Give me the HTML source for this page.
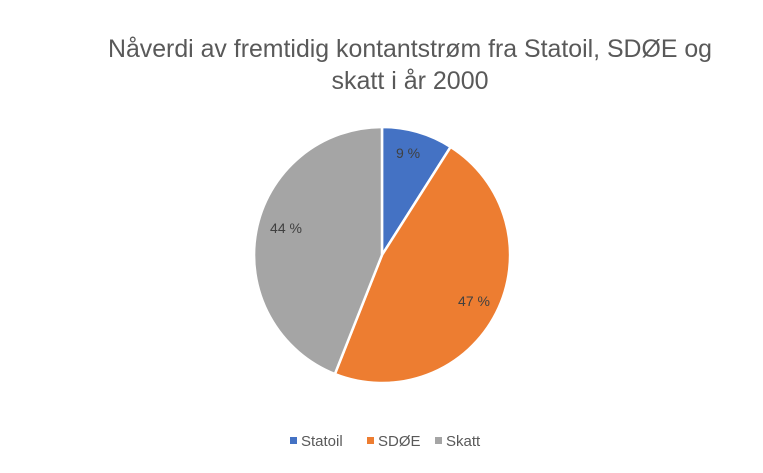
<!DOCTYPE html>
<html><head><meta charset="utf-8"><style>
html,body{margin:0;padding:0;background:#fff;}
</style></head><body>
<svg width="763" height="468" xmlns="http://www.w3.org/2000/svg" font-family="Liberation Sans, sans-serif">
<rect width="763" height="468" fill="#fff"/>
<text x="410" y="57" text-anchor="middle" font-size="25" fill="#595959" textLength="604" lengthAdjust="spacingAndGlyphs">Nåverdi av fremtidig kontantstrøm fra Statoil, SDØE og</text>
<text x="410" y="89" text-anchor="middle" font-size="25" fill="#595959">skatt i år 2000</text>
<g stroke="#fff" stroke-width="2.5" stroke-linejoin="round">
<path d="M382,255 L382,127 A128,128 0 0 1 450.6,146.9 Z" fill="#4472C4"/>
<path d="M382,255 L450.6,146.9 A128,128 0 0 1 334.9,374.0 Z" fill="#ED7D31"/>
<path d="M382,255 L334.9,374.0 A128,128 0 0 1 382,127 Z" fill="#A5A5A5"/>
</g>
<g font-size="14" fill="#404040" text-anchor="middle">
<text x="408" y="158">9 %</text>
<text x="474" y="306">47 %</text>
<text x="286" y="233">44 %</text>
</g>
<g font-size="15" fill="#595959">
<rect x="290" y="437" width="7" height="7" fill="#4472C4"/>
<text x="301" y="446">Statoil</text>
<rect x="367" y="437" width="7" height="7" fill="#ED7D31"/>
<text x="378" y="446">SDØE</text>
<rect x="435" y="437" width="7" height="7" fill="#A5A5A5"/>
<text x="446" y="446">Skatt</text>
</g>
</svg>
</body></html>
